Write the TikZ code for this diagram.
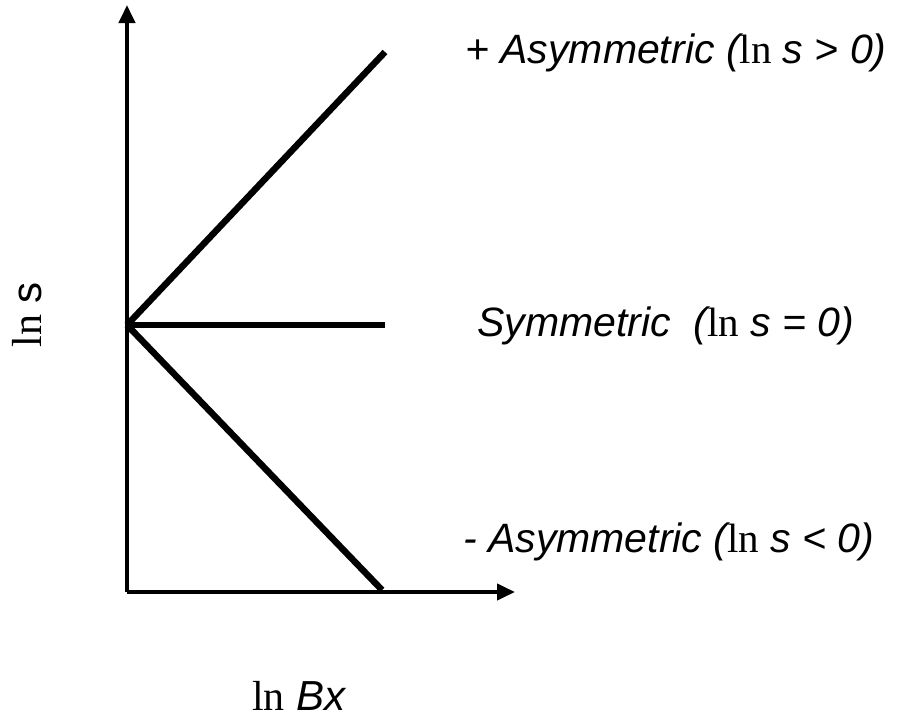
\documentclass[tikz,border=0pt]{standalone}
\usepackage{fontspec}
\setmainfont{Liberation Sans}
\newfontfamily\lnfont{Liberation Serif}
\usetikzlibrary{arrows.meta}
\begin{document}
\begin{tikzpicture}[x=1pt,y=-1pt,
  axis/.style={line width=4pt,-{Triangle[length=18pt,width=16pt]}},
  curveline/.style={line width=6.5pt},
  lbl/.style={font=\fontsize{41}{45}\selectfont\itshape,anchor=base west,inner sep=0pt}]
\useasboundingbox (0,0) rectangle (902,720);
\coordinate (O) at (127,592);
\coordinate (Ytip) at (127,5);
\coordinate (Xtip) at (515,592);
\coordinate (C) at (127,325);
\coordinate (P) at (385,52);
\coordinate (S) at (385,325);
\coordinate (N) at (382,590);
\draw[axis] (O) -- (Ytip);
\draw[axis] (O) -- (Xtip);
\draw[curveline] (C) -- (P);
\draw[curveline] (C) -- (S);
\draw[curveline] (C) -- (N);
\node[lbl] (lp) at (465,63) {+ Asymmetric ({\upshape\lnfont ln} s > 0)};
\node[lbl] (ls) at (477,336) {Symmetric\ \ ({\upshape\lnfont ln} s = 0)};
\node[lbl] (ln) at (463,552) {- Asymmetric ({\upshape\lnfont ln} s < 0)};
\node[font=\fontsize{42}{46}\selectfont,rotate=90,inner sep=0pt] (ys) at (27,315) {{\lnfont ln} s};
\node[font=\fontsize{42}{46}\selectfont,anchor=base west,inner sep=0pt] (xs) at (252,710) {{\lnfont ln} \textit{Bx}};
\end{tikzpicture}
\end{document}
